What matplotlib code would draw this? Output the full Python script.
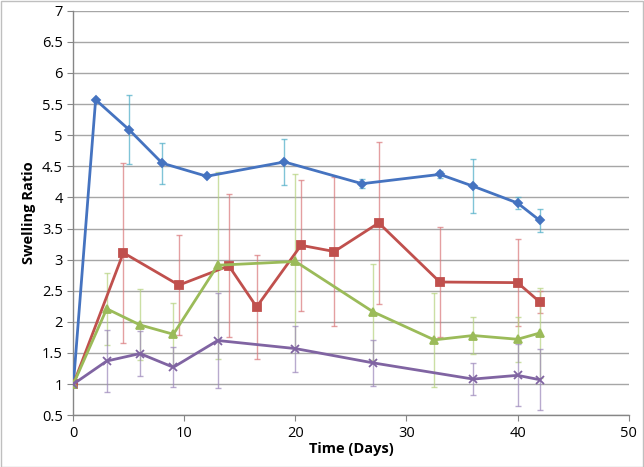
import matplotlib.pyplot as plt
from matplotlib.patches import Rectangle

# Datos
x_blue = [0, 2, 5, 8, 12, 19, 26, 33, 36, 40, 42]
y_blue = [1.0, 5.57, 5.09, 4.55, 4.34, 4.57, 4.22, 4.37, 4.18, 3.91, 3.63]
e_blue = [0, 0, 0.56, 0.33, 0, 0.37, 0.07, 0.06, 0.43, 0.10, 0.18]

x_red = [0, 4.5, 9.5, 14, 16.5, 20.5, 23.5, 27.5, 33, 40, 42]
y_red = [1.0, 3.11, 2.59, 2.90, 2.24, 3.23, 3.13, 3.59, 2.64, 2.63, 2.32]
e_red = [0, 1.45, 0.80, 1.15, 0.83, 1.05, 1.20, 1.30, 0.88, 0.70, 0.17]

x_green = [0, 3, 6, 9, 13, 20, 27, 32.5, 36, 40, 42]
y_green = [1.0, 2.21, 1.95, 1.80, 2.91, 2.97, 2.16, 1.71, 1.78, 1.72, 1.82]
e_green = [0, 0.58, 0.57, 0.50, 1.50, 1.40, 0.77, 0.76, 0.29, 0.36, 0.72]

x_purple = [0, 3, 6, 9, 13, 20, 27, 36, 40, 42]
y_purple = [1.0, 1.37, 1.49, 1.27, 1.70, 1.57, 1.34, 1.08, 1.14, 1.07]
e_purple = [0, 0.50, 0.36, 0.32, 0.76, 0.37, 0.37, 0.26, 0.50, 0.49]

plt.rcParams['font.family'] = ['Open Sans', 'DejaVu Sans']

fig = plt.figure(figsize=(6.44, 4.67), dpi=100)
ax = fig.add_axes([0.114, 0.111, 0.862, 0.866])

# Series: (x, y, err, color linea, color barras, marcador, tamano)
series = [
    (x_blue, y_blue, e_blue, '#4573C0', '#4BACC6', 'D', 4),
    (x_red, y_red, e_red, '#C0504D', '#D9777A', 's', 5.5),
    (x_green, y_green, e_green, '#9BBB59', '#B5D27E', '^', 5.5),
    (x_purple, y_purple, e_purple, '#8064A2', '#9B86BA', 'x', 5.5),
]

for xs, ys, es, c, ec, m, ms in series:
    ax.errorbar(xs, ys, yerr=es, fmt='none', ecolor=ec, elinewidth=1,
                capsize=2.5, capthick=1, alpha=0.7, zorder=2)
    ax.plot(xs, ys, color=c, lw=2, marker=m, ms=ms, mec=c, mfc=c,
            mew=1.3, zorder=3)

ax.set_xlim(0, 50)
ax.set_ylim(0.5, 7)
ax.set_xticks(range(0, 51, 10))
ax.set_yticks([0.5 + 0.5 * i for i in range(14)])
ax.set_yticklabels(['0.5', '1', '1.5', '2', '2.5', '3', '3.5', '4', '4.5',
                    '5', '5.5', '6', '6.5', '7'])
ax.yaxis.grid(True, color='#A6A6A6', lw=1)
ax.set_axisbelow(True)
for s in ['top', 'right']:
    ax.spines[s].set_visible(False)
for s in ['left', 'bottom']:
    ax.spines[s].set_color('#868686')
    ax.spines[s].set_linewidth(1)
ax.tick_params(axis='both', colors='#868686', labelcolor='black',
               labelsize=10.5, length=4, direction='out')
ax.set_xlabel('Time (Days)', fontsize=10.5, fontweight='bold', labelpad=1)
ax.set_ylabel('Swelling Ratio', fontsize=10.5, fontweight='bold', labelpad=4)

fig.patches.append(Rectangle((0.001, 0.001), 0.997, 0.997, transform=fig.transFigure,
                             fill=False, ec='#BFBFBF', lw=1))

fig.savefig('out.png', dpi=100)
